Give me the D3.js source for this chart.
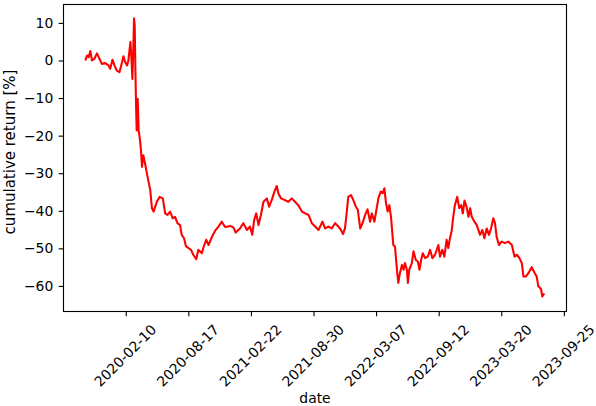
<!DOCTYPE html>
<html>
<head>
<meta charset="utf-8">
<script src="https://cdn.jsdelivr.net/npm/d3@7"></script>
<style>
  body { margin: 0; background: #fff; }
  text { font-family: "DejaVu Sans", sans-serif; }
</style>
</head>
<body>
<div id="chart"></div>
<script>
// values
const dates = [
  "2019-10-11","2019-10-16","2019-10-21","2019-10-26","2019-10-31","2019-11-07","2019-11-15","2019-11-23",
  "2019-11-30","2019-12-10","2019-12-20","2019-12-25","2020-01-01","2020-01-07","2020-01-14","2020-01-22",
  "2020-01-30","2020-02-03","2020-02-08","2020-02-14","2020-02-18","2020-02-24","2020-02-27","2020-03-01",
  "2020-03-04","2020-03-06","2020-03-08","2020-03-10","2020-03-12","2020-03-14","2020-03-17","2020-03-20",
  "2020-03-24","2020-03-27","2020-03-30","2020-04-03","2020-04-08","2020-04-14","2020-04-19","2020-04-24",
  "2020-04-29","2020-05-04","2020-05-09","2020-05-14","2020-05-22","2020-06-01","2020-06-08","2020-06-15",
  "2020-06-23","2020-07-01","2020-07-08","2020-07-15","2020-07-23","2020-07-28","2020-08-04","2020-08-10",
  "2020-08-17","2020-08-25","2020-09-01","2020-09-10","2020-09-16","2020-09-27","2020-10-01","2020-10-10",
  "2020-10-17","2020-10-27","2020-11-06","2020-11-16","2020-11-26","2020-12-06","2020-12-16","2020-12-21",
  "2020-12-31","2021-01-07","2021-01-20","2021-01-30","2021-02-10","2021-02-19","2021-02-26","2021-03-04",
  "2021-03-10","2021-03-17","2021-03-24","2021-04-01","2021-04-11","2021-04-18","2021-04-26","2021-05-04",
  "2021-05-11","2021-05-16","2021-05-24","2021-06-03","2021-06-15","2021-06-25","2021-07-05","2021-07-15",
  "2021-07-26","2021-08-05","2021-08-15","2021-08-25","2021-09-04","2021-09-14","2021-09-26","2021-10-04",
  "2021-10-14","2021-10-24","2021-11-03","2021-11-13","2021-11-21","2021-11-27","2021-12-03","2021-12-08",
  "2021-12-13","2021-12-21","2021-12-28","2022-01-05","2022-01-11","2022-01-18","2022-01-25","2022-02-02",
  "2022-02-09","2022-02-17","2022-02-22","2022-03-02","2022-03-07","2022-03-14","2022-03-21","2022-03-27",
  "2022-04-01","2022-04-06","2022-04-11","2022-04-16","2022-04-21","2022-04-28","2022-05-03","2022-05-09",
  "2022-05-13","2022-05-18","2022-05-24","2022-05-29","2022-06-02","2022-06-08","2022-06-11","2022-06-15",
  "2022-06-23","2022-06-28","2022-07-05","2022-07-11","2022-07-16","2022-07-21","2022-07-26","2022-08-02",
  "2022-08-10","2022-08-17","2022-08-24","2022-09-01","2022-09-11","2022-09-16","2022-09-23","2022-09-29",
  "2022-10-06","2022-10-11","2022-10-16","2022-10-21","2022-10-26","2022-10-31","2022-11-07","2022-11-13",
  "2022-11-19","2022-11-24","2022-11-29","2022-12-05","2022-12-11","2022-12-16","2022-12-21","2022-12-29",
  "2023-01-05","2023-01-15","2023-01-22","2023-01-28","2023-02-04","2023-02-11","2023-02-17","2023-02-24",
  "2023-03-01","2023-03-06","2023-03-13","2023-03-21","2023-03-31","2023-04-10","2023-04-21","2023-04-29",
  "2023-05-06","2023-05-14","2023-05-21","2023-05-26","2023-06-02","2023-06-10","2023-06-20","2023-06-28",
  "2023-07-05","2023-07-10","2023-07-18","2023-07-22","2023-07-28"
];
const returns = [
  0, 1.3, 0.9, 2.5, 0, 0.4, 1.9, 0.4,
  -0.9, -0.7, -1.3, -2.2, 0.2, -1.3, -2.7, -3.1,
  -0.4, 1.1, -0.4, -1.3, 0, 4.9, 0.9, -4.9,
  3.5, 11.2, 9.5, -1.8, -11.5, -18.6, -10.2, -18.6,
  -21.2, -23.9, -28.3, -25.2, -27.3, -30.1, -32.3, -34.5,
  -39.3, -40.2, -38.9, -37.6, -36.3, -36.7, -40.7, -41.1,
  -40.2, -42, -41.6, -43.3, -43.8, -46.4, -47.3, -49.5,
  -49.9, -50.4, -51.7, -52.9, -50.4, -51.3, -49.9, -47.7,
  -49.1, -47, -45.3, -44.2, -42.9, -44.3, -44.2, -44,
  -44.4, -45.8, -44.7, -43.3, -45.1, -44.2, -46.4, -42.4,
  -40.7, -43.8, -41.1, -37.6, -36.7, -38.9, -37.1, -34.9,
  -33.4, -35.4, -36.7, -37.1, -37.6, -36.7, -37.6, -38.5,
  -40.2, -40.7, -41.1, -43.3, -44.2, -45.1, -42.9, -44.7,
  -44.2, -44.7, -43.3, -44.2, -45.1, -46.2, -44.7, -40.7,
  -36.3, -35.8, -37.1, -38.9, -39.8, -44.7, -43.3, -41.1,
  -39.6, -42.9, -40.7, -42.9, -40.2, -36.7, -34.9, -35.3,
  -34, -38, -40.2, -38.5, -41.6, -49.1, -49.5, -55.7,
  -59.2, -56.6, -54.4, -55.7, -53.9, -55.7, -59.2, -55.7,
  -53.9, -50.8, -53.1, -53.5, -55.7, -53.1, -51.3, -52.6,
  -52.2, -50.4, -52.6, -51.7, -49.1, -52.2, -50.4, -52.2,
  -47.7, -49.9, -47.3, -45.5, -41.6, -38.5, -36.3, -39.3,
  -38.5, -40.7, -37.3, -38.9, -41.6, -39.3, -41.6, -42.9,
  -43.8, -46.4, -45.1, -47.3, -44.7, -46.4, -44.7, -42,
  -43.3, -46.9, -49.1, -48.2, -48.6, -48.2, -49.1, -52.2,
  -51.7, -52.6, -53.9, -57.5, -57.5, -56.6, -55, -56.4,
  -57.5, -60.1, -60.8, -62.8, -62
];
const xTickDates = ["2020-02-10","2020-08-17","2021-02-22","2021-08-30","2022-03-07","2022-09-12","2023-03-20","2023-09-25"];
const yTickValues = [10, 0, -10, -20, -30, -40, -50, -60];
const xLimits = ["2019-08-06", "2023-10-03"];
const yLimits = [-66.8, 14.9];

// set the dimensions and margins of the graph
var margin = {top: 4.5, right: 29.5, bottom: 94.5, left: 63.5},
    width = 596 - margin.left - margin.right,
    height = 406 - margin.top - margin.bottom;

const fontSize = 13.9;
const tickLen = 4.86;
const parseDate = d3.utcParse("%Y-%m-%d");

const data = dates.map((d, i) => ({date: parseDate(d), value: returns[i]}));

var svg = d3.select("#chart")
  .append("svg")
    .attr("width", 596)
    .attr("height", 406)
  .append("g")
    .attr("transform", "translate(" + margin.left + "," + margin.top + ")");

const x = d3.scaleUtc()
  .domain(xLimits.map(parseDate))
  .range([0, width]);

const y = d3.scaleLinear()
  .domain(yLimits)
  .range([height, 0]);

// line
svg.append("path")
  .datum(data)
  .attr("fill", "none")
  .attr("stroke", "#ff0000")
  .attr("stroke-width", 2.08)
  .attr("stroke-linejoin", "round")
  .attr("d", d3.line().x(d => x(d.date)).y(d => y(d.value)));

// X axis
const xAxis = svg.append("g")
  .attr("transform", `translate(0,${height})`)
  .call(d3.axisBottom(x)
    .tickValues(xTickDates.map(parseDate))
    .tickFormat(d3.utcFormat("%Y-%m-%d"))
    .tickSize(tickLen)
    .tickSizeOuter(0));

xAxis.selectAll("text")
  .attr("y", null)
  .attr("dy", null)
  .attr("text-anchor", "middle")
  .attr("dominant-baseline", "central")
  .attr("fill", "#000")
  .style("font-size", fontSize + "px")
  .attr("transform", function () {
    const L = this.getComputedTextLength();
    const h = fontSize * 1.164;
    const cy = tickLen * 2 + (L + h) * Math.SQRT1_2 / 2;
    return "translate(-1," + cy + ") rotate(-45)";
  });

// Y axis
const yAxis = svg.append("g")
  .call(d3.axisLeft(y)
    .tickValues(yTickValues)
    .tickSize(tickLen)
    .tickPadding(tickLen + 0.5)
    .tickSizeOuter(0));

yAxis.selectAll("text")
  .attr("fill", "#000")
  .style("font-size", fontSize + "px");

svg.selectAll(".tick line").attr("stroke", "#000").attr("stroke-width", 1.11);
svg.selectAll(".domain").remove();

// spines
svg.append("rect")
  .attr("x", 0)
  .attr("y", 0)
  .attr("width", width)
  .attr("height", height)
  .attr("fill", "none")
  .attr("stroke", "#000")
  .attr("stroke-width", 1.11);

// Axis labels
svg.append("text")
  .attr("x", width / 2)
  .attr("y", height + 91)
  .attr("text-anchor", "middle")
  .style("font-size", fontSize + "px")
  .text("date");

svg.append("text")
  .attr("transform", "translate(-48.5," + (height / 2 - 6) + ") rotate(-90)")
  .attr("text-anchor", "middle")
  .style("font-size", "15px")
  .text("cumulative return [%]");
</script>
</body>
</html>
